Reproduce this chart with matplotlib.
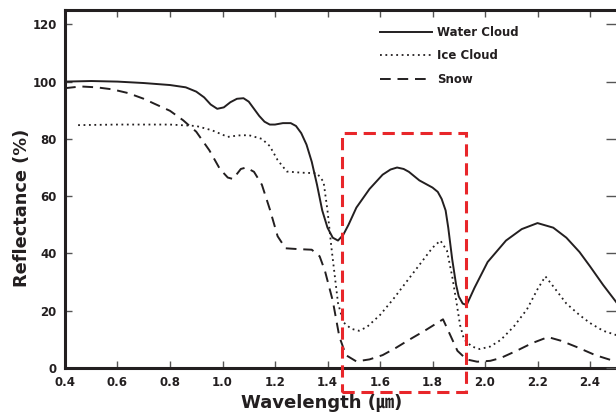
import matplotlib
matplotlib.use("Agg")
import matplotlib.pyplot as plt
from matplotlib.patches import Rectangle

water_x = [0.40, 0.50, 0.60, 0.70, 0.80, 0.86, 0.90, 0.93, 0.955, 0.98, 1.005, 1.03, 1.055, 1.08, 1.10, 1.12, 1.14, 1.16, 1.18, 1.20, 1.23, 1.26, 1.28, 1.30, 1.32, 1.34, 1.36, 1.38, 1.40, 1.42, 1.44, 1.46, 1.48, 1.51, 1.56, 1.61, 1.64, 1.665, 1.69, 1.71, 1.75, 1.78, 1.80, 1.82, 1.835, 1.85, 1.86, 1.875, 1.89, 1.90, 1.915, 1.93, 1.96, 2.01, 2.08, 2.14, 2.20, 2.26, 2.31, 2.36, 2.40, 2.45, 2.50, 2.53]
water_y = [100, 100.2, 100, 99.5, 98.8, 98, 96.5, 94.5, 92, 90.5, 91, 92.8, 94, 94.2, 93, 90.5, 88, 86, 85, 85, 85.5, 85.5, 84.5, 82, 78, 72, 64, 55, 49, 45.5, 44.5, 46.5, 50, 56, 62.5, 67.5, 69.3, 70, 69.5, 68.5, 65.5, 64, 63, 61.5, 59, 55, 49, 38, 29, 25, 22.5, 22, 28, 37, 44.5, 48.5, 50.6, 49, 45.5, 40.5, 35.5, 29, 23, 19.5]

ice_x = [0.45, 0.60, 0.80, 0.90, 0.96, 1.02, 1.06, 1.10, 1.15, 1.18, 1.21, 1.245, 1.30, 1.36, 1.385, 1.40, 1.415, 1.44, 1.46, 1.49, 1.52, 1.55, 1.60, 1.65, 1.70, 1.75, 1.80, 1.83, 1.855, 1.875, 1.89, 1.905, 1.92, 1.95, 1.98, 2.02, 2.06, 2.11, 2.16, 2.20, 2.23, 2.26, 2.31, 2.36, 2.40, 2.45, 2.50, 2.53]
ice_y = [84.8, 85, 85, 84.5, 83, 80.7, 81.2, 81.3, 80, 77.5, 72.6, 68.6, 68.2, 68, 65, 55, 42, 22.7, 16, 13.7, 13, 14.3, 18.5, 24, 30, 36, 42, 44.5, 41, 32, 23.7, 15, 10, 7.5, 6.6, 7.5, 9.8, 14.5, 20.5, 27.5, 32, 28.5, 22.5, 18.5, 15.7, 13, 11.5, 10.8]

snow_x = [0.40, 0.46, 0.52, 0.58, 0.64, 0.70, 0.74, 0.80, 0.85, 0.90, 0.95, 0.99, 1.02, 1.04, 1.07, 1.09, 1.12, 1.15, 1.18, 1.21, 1.24, 1.29, 1.34, 1.37, 1.39, 1.42, 1.445, 1.47, 1.51, 1.56, 1.61, 1.66, 1.71, 1.77, 1.84, 1.87, 1.895, 1.93, 1.97, 2.02, 2.06, 2.12, 2.18, 2.24, 2.29, 2.35, 2.42, 2.50, 2.53]
snow_y = [97.7, 98.3, 98, 97.3, 96, 94, 92.3, 89.8, 86.5, 82.5, 76, 69.5, 66.5, 66, 69.5, 70, 68.5, 64, 55.5, 46, 41.8, 41.5, 41.3, 39, 34, 23.5, 11, 4.5, 2.3, 3, 4.5, 7, 9.8, 13, 17, 11, 6, 3, 2.2, 2.5, 3.5, 6, 8.7, 10.8, 9.5, 7.3, 4.5, 2.2, 1.8]

labels = ["Water Cloud", "Ice Cloud", "Snow"]
x_ticks = [0.4, 0.6, 0.8, 1.0, 1.2, 1.4, 1.6, 1.8, 2.0, 2.2, 2.4]
y_ticks = [0, 20, 40, 60, 80, 100, 120]
box_x = [1.455, 1.928]
box_y = [-8.4, 82]

ink = "#231f20"
plt.rcParams['font.family'] = ['DejaVu Sans', 'Noto Sans CJK KR']

fig = plt.figure(figsize=(6.16, 4.15), dpi=100)
ax = fig.add_axes([65 / 616, 47 / 415, 557 / 616, 358 / 415])

ax.plot(water_x, water_y, color=ink, lw=1.4, ls='-', label=labels[0])
ax.plot(ice_x, ice_y, color=ink, lw=1.3, ls=(0, (1, 2)), label=labels[1])
ax.plot(snow_x, snow_y, color=ink, lw=1.4, ls=(0, (5.5, 3.5)), label=labels[2])

ax.add_patch(Rectangle((box_x[0], box_y[0]), box_x[1] - box_x[0], box_y[1] - box_y[0],
                       fill=False, ec="#e8262a", lw=2.2, ls=(0, (4, 2.2)), clip_on=False, zorder=5))

ax.set_xlim(0.4, 0.4 + 557 / 262.5)
ax.set_ylim(0, 125)
ax.set_xticks(x_ticks)
ax.set_xticklabels([f"{v:.1f}" for v in x_ticks])
ax.set_yticks(y_ticks)
ax.tick_params(direction='in', top=True, right=False, length=5, width=1, color='#555555',
               labelsize=8.5, labelcolor=ink, pad=6)
for lab in ax.get_xticklabels() + ax.get_yticklabels():
    lab.set_fontweight('bold')
for side in ['left', 'bottom', 'top']:
    ax.spines[side].set_linewidth(2.2)
    ax.spines[side].set_color(ink)
ax.spines['right'].set_visible(False)

ax2 = ax.twinx()
ax2.set_ylim(0, 125)
ax2.set_yticks(y_ticks)
ax2.tick_params(axis='y', direction='in', length=11.5, width=1, color='#555555', labelright=False)
for side in ['left', 'bottom', 'top', 'right']:
    ax2.spines[side].set_visible(False)

fig.text(22 / 616, 1 - 208 / 415, "Reflectance (%)", rotation=90, ha='center', va='center',
         fontsize=12.8, fontweight='bold', color=ink)
fig.text(322 / 616, 1 - 403 / 415, "Wavelength (㎛)", ha='center', va='center',
         fontsize=13, fontweight='bold', color=ink)

leg = ax.legend(loc='upper left', bbox_to_anchor=(315 / 557, 0.955), frameon=False,
                borderpad=0, borderaxespad=0, handlelength=4.4, handletextpad=0.4,
                labelspacing=0.88, prop={'weight': 'bold', 'size': 8.5})
for t in leg.get_texts():
    t.set_color(ink)

fig.savefig("out.png", dpi=100)
